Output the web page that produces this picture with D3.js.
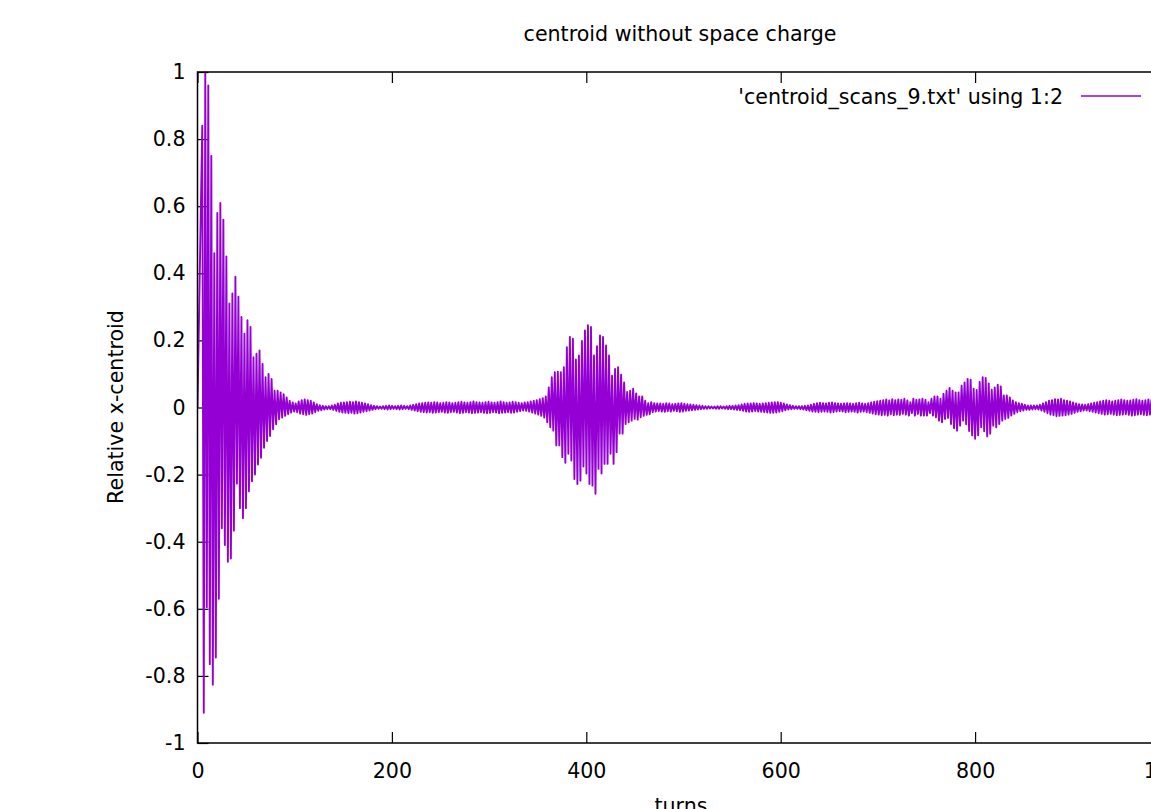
<!DOCTYPE html>
<html lang="en">
<head>
    <meta charset="UTF-8">
    <title>centroid without space charge</title>
    <style>
        body {
            margin: 0;
            background-color: #ffffff;
        }
        svg text {
            font-family: "DejaVu Sans", sans-serif;
            font-size: 20.6px;
            fill: #000;
        }
        .axis path.domain {
            display: none;
        }
        .axis line {
            stroke: #000;
            stroke-width: 1.2px;
        }
    </style>
</head>
<body>
    <div id="chart"></div>
    <script src="https://d3js.org/d3.v7.min.js"></script>
    <script>
        // Axis tick values
        const xTicks = [0, 200, 400, 600, 800, 1000];
        const yTicks = [-1, -0.8, -0.6, -0.4, -0.2, 0, 0.2, 0.4, 0.6, 0.8, 1];

        // Series: the data oscillates once every ~3.1 turns,
        // so it is kept as the successive maxima and minima of each oscillation
        const startTurn = 0;
        const startValue = 0;
        const firstPeakTurn = 4.9;
        const peakSpacing = 3.1;   // turns between successive maxima

        const maxima = [
            0.84, 1.0, 0.96, 0.75, 0.46, 0.58, 0.61, 0.56, 0.45, 0.31,
            0.34, 0.39, 0.33, 0.27, 0.22, 0.26, 0.24, 0.15, 0.16, 0.17,
            0.13, 0.09, 0.10, 0.085, 0.05, 0.05, 0.045, 0.04, 0.03, 0.02,
            0.015, 0.012, 0.018, 0.022, 0.024, 0.022, 0.02, 0.015, 0.01, 0.007,
            0.005, 0.004, 0.004, 0.006, 0.008, 0.012, 0.014, 0.015, 0.016, 0.017,
            0.016, 0.018, 0.016, 0.014, 0.012, 0.01, 0.007, 0.005, 0.004, 0.003,
            0.004, 0.005, 0.006, 0.005, 0.004, 0.005, 0.006, 0.005, 0.004, 0.006,
            0.008, 0.01, 0.012, 0.013, 0.014, 0.015, 0.014, 0.016, 0.015, 0.013,
            0.014, 0.016, 0.015, 0.013, 0.014, 0.016, 0.017, 0.015, 0.014, 0.016,
            0.018, 0.016, 0.015, 0.014, 0.016, 0.017, 0.015, 0.014, 0.016, 0.018,
            0.016, 0.014, 0.015, 0.017, 0.016, 0.014, 0.013, 0.015, 0.016, 0.018,
            0.02, 0.022, 0.025, 0.028, 0.033, 0.06, 0.09, 0.105, 0.107, 0.105,
            0.12, 0.18, 0.21, 0.205, 0.143, 0.155, 0.198, 0.23, 0.245, 0.24,
            0.155, 0.183, 0.215, 0.21, 0.185, 0.155, 0.095, 0.115, 0.12, 0.098,
            0.075, 0.046, 0.05, 0.056, 0.042, 0.033, 0.033, 0.02, 0.013, 0.016,
            0.013, 0.012, 0.012, 0.011, 0.013, 0.012, 0.01, 0.011, 0.012, 0.013,
            0.011, 0.01, 0.009, 0.008, 0.007, 0.006, 0.005, 0.004, 0.004, 0.003,
            0.003, 0.004, 0.004, 0.003, 0.004, 0.005, 0.005, 0.006, 0.007, 0.009,
            0.011, 0.012, 0.012, 0.013, 0.012, 0.011, 0.012, 0.013, 0.014, 0.015,
            0.016, 0.016, 0.014, 0.012, 0.009, 0.007, 0.005, 0.004, 0.004, 0.004,
            0.005, 0.006, 0.008, 0.011, 0.013, 0.014, 0.013, 0.012, 0.014, 0.015,
            0.013, 0.012, 0.011, 0.012, 0.013, 0.012, 0.011, 0.013, 0.014, 0.012,
            0.011, 0.013, 0.015, 0.017, 0.019, 0.02, 0.022, 0.024, 0.021, 0.025,
            0.022, 0.024, 0.023, 0.026, 0.021, 0.016, 0.026, 0.023, 0.024, 0.026,
            0.023, 0.016, 0.026, 0.033, 0.033, 0.026, 0.041, 0.05, 0.058, 0.05,
            0.045, 0.045, 0.065, 0.075, 0.085, 0.083, 0.056, 0.052, 0.076, 0.09,
            0.088, 0.072, 0.053, 0.06, 0.068, 0.063, 0.036, 0.036, 0.03, 0.021,
            0.016, 0.013, 0.011, 0.008, 0.006, 0.006, 0.006, 0.006, 0.008, 0.012,
            0.016, 0.02, 0.022, 0.025, 0.024, 0.026, 0.022, 0.02, 0.018, 0.015,
            0.012, 0.01, 0.009, 0.008, 0.01, 0.012, 0.014, 0.016, 0.018, 0.02,
            0.022, 0.02, 0.018, 0.02, 0.022, 0.024, 0.022, 0.02, 0.021, 0.023,
            0.025, 0.022, 0.02, 0.022, 0.024, 0.022, 0.02, 0.018, 0.02, 0.019,
            0.017, 0.018
        ];

        const minima = [
            -0.91, -0.595, -0.765, -0.826, -0.745, -0.57, -0.36, -0.41, -0.46, -0.45,
            -0.367, -0.227, -0.30, -0.33, -0.30, -0.25, -0.22, -0.2, -0.17, -0.15,
            -0.12, -0.1, -0.085, -0.065, -0.05, -0.035, -0.03, -0.025, -0.02, -0.015,
            -0.012, -0.014, -0.018, -0.02, -0.022, -0.02, -0.018, -0.014, -0.01, -0.008,
            -0.006, -0.005, -0.005, -0.007, -0.01, -0.013, -0.015, -0.016, -0.017, -0.016,
            -0.018, -0.017, -0.015, -0.013, -0.011, -0.009, -0.007, -0.005, -0.004, -0.004,
            -0.005, -0.006, -0.005, -0.004, -0.005, -0.006, -0.005, -0.004, -0.005, -0.007,
            -0.009, -0.011, -0.013, -0.014, -0.015, -0.014, -0.016, -0.015, -0.014, -0.013,
            -0.015, -0.016, -0.014, -0.013, -0.015, -0.017, -0.016, -0.014, -0.015, -0.017,
            -0.016, -0.015, -0.014, -0.016, -0.017, -0.016, -0.014, -0.015, -0.017, -0.016,
            -0.015, -0.014, -0.016, -0.015, -0.013, -0.011, -0.009, -0.01, -0.012, -0.015,
            -0.018, -0.021, -0.025, -0.03, -0.044, -0.059, -0.069, -0.113, -0.113, -0.148,
            -0.165, -0.138, -0.158, -0.213, -0.228, -0.218, -0.176, -0.197, -0.228, -0.233,
            -0.257, -0.183, -0.197, -0.168, -0.168, -0.138, -0.168, -0.133, -0.078, -0.078,
            -0.049, -0.044, -0.039, -0.034, -0.036, -0.029, -0.025, -0.022, -0.02, -0.014,
            -0.012, -0.011, -0.012, -0.013, -0.011, -0.012, -0.01, -0.011, -0.013, -0.012,
            -0.01, -0.009, -0.008, -0.007, -0.006, -0.005, -0.004, -0.004, -0.003, -0.003,
            -0.004, -0.004, -0.003, -0.004, -0.005, -0.005, -0.006, -0.007, -0.008, -0.01,
            -0.012, -0.013, -0.012, -0.011, -0.012, -0.013, -0.014, -0.015, -0.016, -0.016,
            -0.015, -0.013, -0.011, -0.008, -0.006, -0.005, -0.004, -0.004, -0.005, -0.006,
            -0.008, -0.01, -0.012, -0.013, -0.014, -0.013, -0.012, -0.013, -0.015, -0.014,
            -0.012, -0.011, -0.012, -0.014, -0.013, -0.012, -0.013, -0.015, -0.013, -0.012,
            -0.014, -0.016, -0.018, -0.02, -0.021, -0.023, -0.022, -0.024, -0.02, -0.023,
            -0.021, -0.022, -0.019, -0.021, -0.024, -0.017, -0.024, -0.019, -0.024, -0.024,
            -0.024, -0.017, -0.024, -0.029, -0.039, -0.044, -0.034, -0.031, -0.049, -0.062,
            -0.069, -0.054, -0.039, -0.05, -0.07, -0.083, -0.093, -0.083, -0.059, -0.071,
            -0.086, -0.078, -0.054, -0.059, -0.049, -0.039, -0.034, -0.031, -0.024, -0.019,
            -0.014, -0.011, -0.009, -0.007, -0.007, -0.006, -0.005, -0.006, -0.009, -0.013,
            -0.017, -0.021, -0.023, -0.026, -0.025, -0.024, -0.023, -0.021, -0.019, -0.016,
            -0.013, -0.011, -0.009, -0.009, -0.011, -0.013, -0.015, -0.017, -0.019, -0.021,
            -0.02, -0.019, -0.021, -0.023, -0.022, -0.021, -0.02, -0.022, -0.024, -0.023,
            -0.021, -0.02, -0.022, -0.023, -0.021, -0.02, -0.019, -0.02, -0.018, -0.019,
            -0.017, -0.016
        ];

        // Build the point list: max, then min half an oscillation later
        const points = [{ turn: startTurn, value: startValue }];
        const n = Math.min(maxima.length, minima.length);
        for (let i = 0; i < n; i++) {
            const t = firstPeakTurn + i * peakSpacing;
            points.push({ turn: t, value: maxima[i] });
            points.push({ turn: t + peakSpacing / 2, value: minima[i] });
        }

        const width = 1151;
        const height = 809;
        const plot = { left: 197.5, right: 1169.5, top: 72, bottom: 743 };

        const svg = d3.select("#chart").append("svg")
            .attr("width", width)
            .attr("height", height);

        const x = d3.scaleLinear().domain([0, 1000]).range([plot.left, plot.right]);
        const y = d3.scaleLinear().domain([-1, 1]).range([plot.bottom, plot.top]);

        // gnuplot style labels: plain hyphen for the minus sign
        const fmt = d => String(+d.toFixed(1));
        const tickLen = 11;

        // Axes with inward ticks (mirrored on top and right)
        svg.append("g").attr("class", "axis")
            .attr("transform", `translate(0,${plot.bottom})`)
            .call(d3.axisBottom(x).tickValues(xTicks).tickSize(-tickLen).tickPadding(20).tickFormat(d => String(d)));

        svg.append("g").attr("class", "axis")
            .attr("transform", `translate(0,${plot.top})`)
            .call(d3.axisTop(x).tickValues(xTicks).tickSize(-tickLen).tickFormat(""));

        svg.append("g").attr("class", "axis")
            .attr("transform", `translate(${plot.left},0)`)
            .call(d3.axisLeft(y).tickValues(yTicks).tickSize(-tickLen).tickPadding(12).tickFormat(fmt));

        svg.append("g").attr("class", "axis")
            .attr("transform", `translate(${plot.right},0)`)
            .call(d3.axisRight(y).tickValues(yTicks).tickSize(-tickLen).tickFormat(""));

        svg.selectAll(".axis text")
            .attr("font-family", null)
            .attr("font-size", null);

        // Data line
        svg.append("clipPath").attr("id", "clip")
            .append("rect")
            .attr("x", plot.left).attr("y", plot.top)
            .attr("width", plot.right - plot.left)
            .attr("height", plot.bottom - plot.top);

        const line = d3.line()
            .x(d => x(d.turn))
            .y(d => y(d.value));

        svg.append("path")
            .datum(points)
            .attr("clip-path", "url(#clip)")
            .attr("fill", "none")
            .attr("stroke", "#9400d3")
            .attr("stroke-width", 1.9)
            .attr("stroke-linejoin", "round")
            .attr("d", line);

        // Border
        svg.append("rect")
            .attr("x", plot.left).attr("y", plot.top)
            .attr("width", plot.right - plot.left)
            .attr("height", plot.bottom - plot.top)
            .attr("fill", "none")
            .attr("stroke", "#000")
            .attr("stroke-width", 1.5);

        // Title and axis labels
        svg.append("text")
            .attr("x", 680).attr("y", 41)
            .attr("text-anchor", "middle")
            .text("centroid without space charge");

        svg.append("text")
            .attr("x", 681).attr("y", 813)
            .attr("text-anchor", "middle")
            .text("turns");

        svg.append("text")
            .attr("transform", "translate(123,407) rotate(-90)")
            .attr("text-anchor", "middle")
            .text("Relative x-centroid");

        // Legend
        svg.append("text")
            .attr("x", 1063).attr("y", 104)
            .attr("text-anchor", "end")
            .text("'centroid_scans_9.txt' using 1:2");

        svg.append("line")
            .attr("x1", 1081).attr("x2", 1141)
            .attr("y1", 96).attr("y2", 96)
            .attr("stroke", "#9400d3")
            .attr("stroke-width", 1.5);
    </script>
</body>
</html>
